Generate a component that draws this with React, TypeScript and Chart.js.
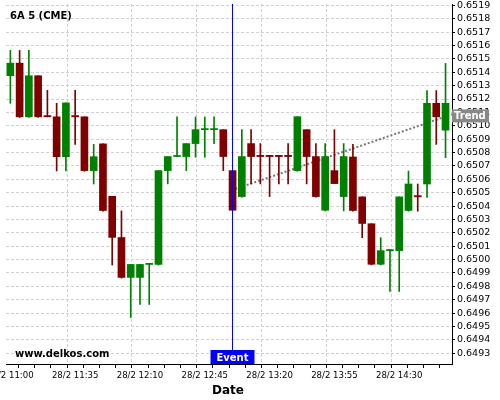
import React, { useEffect, useRef } from 'react';
import { Chart, registerables } from 'chart.js';

Chart.register(...registerables);

// ---- data ----
const chartTitle = '6A 5 (CME)';
const watermark = 'www.delkos.com';
const xAxisTitle = 'Date';

const times = [
  '11:00', '11:05', '11:10', '11:15', '11:20', '11:25', '11:30', '11:35',
  '11:40', '11:45', '11:50', '11:55', '12:00', '12:05', '12:10', '12:15',
  '12:20', '12:25', '12:30', '12:35', '12:40', '12:45', '12:50', '12:55',
  '13:00', '13:05', '13:10', '13:15', '13:20', '13:25', '13:30', '13:35',
  '13:40', '13:45', '13:50', '13:55', '14:00', '14:05', '14:10', '14:15',
  '14:20', '14:25', '14:30', '14:35', '14:40', '14:45', '14:50', '14:55',
];

const opens = [
  0.651374, 0.651468, 0.651067, 0.651374, 0.651076, 0.651067, 0.650769, 0.651076,
  0.651067, 0.650665, 0.650865, 0.650473, 0.650165, 0.649867, 0.649867, 0.649964,
  0.649964, 0.650665, 0.650770, 0.650770, 0.650867, 0.650971, 0.650971, 0.650971,
  0.650665, 0.650471, 0.650867, 0.650779, 0.650779, 0.650779, 0.650779, 0.650665,
  0.650971, 0.650770, 0.650369, 0.650665, 0.650471, 0.650767, 0.650469, 0.650268,
  0.649965, 0.650067, 0.650067, 0.650367, 0.650478, 0.650565, 0.651168, 0.650967,
];

const highs = [
  0.651563, 0.651563, 0.651563, 0.651374, 0.651265, 0.651168, 0.651171, 0.651265,
  0.651067, 0.650861, 0.650865, 0.650473, 0.650364, 0.649964, 0.649964, 0.649972,
  0.650665, 0.650770, 0.651066, 0.650867, 0.651066, 0.651066, 0.651066, 0.650971,
  0.650665, 0.650971, 0.650971, 0.650867, 0.650779, 0.650779, 0.650867, 0.651068,
  0.650971, 0.650867, 0.650867, 0.650971, 0.650867, 0.650861, 0.650469, 0.650268,
  0.650164, 0.650075, 0.650469, 0.650662, 0.650565, 0.651263, 0.651263, 0.651466,
];

const lows = [
  0.651168, 0.651062, 0.651062, 0.651062, 0.651067, 0.650662, 0.650662, 0.650861,
  0.650660, 0.650565, 0.650362, 0.649960, 0.649862, 0.649568, 0.649665, 0.649665,
  0.649959, 0.650566, 0.650770, 0.650665, 0.650765, 0.650765, 0.650867, 0.650665,
  0.650369, 0.650466, 0.650566, 0.650566, 0.650471, 0.650566, 0.650566, 0.650660,
  0.650566, 0.650466, 0.650364, 0.650568, 0.650364, 0.650362, 0.650164, 0.649960,
  0.649960, 0.649762, 0.649762, 0.650362, 0.650362, 0.650464, 0.650861, 0.650762,
];

const closes = [
  0.651468, 0.651067, 0.651374, 0.651067, 0.651067, 0.650769, 0.651171, 0.651067,
  0.650665, 0.650769, 0.650367, 0.650166, 0.649867, 0.649964, 0.649964, 0.649972,
  0.650665, 0.650770, 0.650778, 0.650867, 0.650971, 0.650979, 0.650979, 0.650770,
  0.650369, 0.650770, 0.650770, 0.650770, 0.650770, 0.650770, 0.650770, 0.651068,
  0.650770, 0.650471, 0.650770, 0.650568, 0.650770, 0.650367, 0.650270, 0.649965,
  0.650067, 0.650075, 0.650469, 0.650565, 0.650469, 0.651168, 0.651067, 0.651168,
];

const xTickIndex = [0, 7, 14, 21, 28, 35, 42];
const xTickLabels = ['28/2 11:00', '28/2 11:35', '28/2 12:10', '28/2 12:45', '28/2 13:20', '28/2 13:55', '28/2 14:30'];

const yTickLabels = [
  '0.6493', '0.6494', '0.6495', '0.6496', '0.6497', '0.6498', '0.6499', '0.6500', '0.6501',
  '0.6502', '0.6503', '0.6504', '0.6505', '0.6506', '0.6507', '0.6508', '0.6509', '0.6510',
  '0.6511', '0.6512', '0.6513', '0.6514', '0.6515', '0.6516', '0.6517', '0.6518', '0.6519',
];

const eventIndex = 24;
const eventLabel = 'Event';
const trendLabel = 'Trend';
const trendX = [24.3, 47.7];
const trendY = [0.650528, 0.651085];

// ---- styles ----
const UP = '#008000';
const DOWN = '#800000';
const GRID = '#d0d0d0';

const overlayPlugin = {
  id: 'overlay',
  afterDraw(chart: any) {
    const { ctx, chartArea } = chart;
    const xs = chart.scales.x;
    const ys = chart.scales.y;
    ctx.save();
    // event line
    const ex = Math.round(xs.getPixelForValue(eventIndex)) - 0.5;
    ctx.strokeStyle = '#0000ff';
    ctx.lineWidth = 1;
    ctx.beginPath();
    ctx.moveTo(ex, chartArea.top);
    ctx.lineTo(ex, chartArea.bottom);
    ctx.stroke();
    // event label
    ctx.fillStyle = '#0000ff';
    ctx.fillRect(ex - 22, chartArea.bottom - 14, 44, 14);
    ctx.fillStyle = '#ffffff';
    ctx.font = 'bold 10px "DejaVu Sans"';
    ctx.textAlign = 'center';
    ctx.textBaseline = 'alphabetic';
    ctx.fillText(eventLabel, ex, chartArea.bottom - 3);
    // trend label
    const ty = ys.getPixelForValue(trendY[1]);
    ctx.fillStyle = '#888888';
    ctx.fillRect(chartArea.right, ty - 5, 37, 13);
    ctx.fillStyle = '#ffffff';
    ctx.font = 'bold 10px "DejaVu Sans"';
    ctx.textAlign = 'left';
    ctx.fillText(trendLabel, chartArea.right + 2, ty + 5);
    // title
    ctx.fillStyle = '#000000';
    ctx.font = 'bold 10px "DejaVu Sans"';
    ctx.fillText(chartTitle, 10, 19);
    // watermark
    ctx.fillText(watermark, 15, 357);
    // axis title
    ctx.font = 'bold 12px "DejaVu Sans"';
    ctx.textAlign = 'center';
    ctx.fillText(xAxisTitle, (chartArea.left + chartArea.right) / 2 - 1, 394);
    ctx.restore();
  },
};

export default function App() {
  const ref = useRef<HTMLCanvasElement | null>(null);

  useEffect(() => {
    if (!ref.current) return;
    const colors = opens.map((o, i) => (closes[i] >= o ? UP : DOWN));
    const bodies = opens.map((o, i) => ({ x: i, y: [o, closes[i]] }));
    const wicks = lows.map((l, i) => ({ x: i, y: [l, highs[i]] }));
    const trend = trendX.map((x, i) => ({ x, y: trendY[i] }));

    const chart = new Chart(ref.current, {
      type: 'bar',
      data: {
        labels: times,
        datasets: [
          {
            type: 'bar',
            label: 'body',
            data: bodies as any,
            backgroundColor: colors,
            barThickness: 7,
            grouped: false,
            minBarLength: 1,
            borderWidth: 0,
            order: 1,
          } as any,
          {
            type: 'bar',
            label: 'wick',
            data: wicks as any,
            backgroundColor: colors,
            barThickness: 1,
            grouped: false,
            borderWidth: 0,
            order: 2,
          } as any,
          {
            type: 'line',
            label: 'trend',
            data: trend as any,
            borderColor: '#787878',
            borderWidth: 2,
            borderDash: [2, 2],
            pointRadius: 0,
            fill: false,
            order: 3,
          } as any,
        ],
      },
      options: {
        responsive: false,
        animation: false,
        devicePixelRatio: 1,
        layout: { padding: { left: 6, top: 4, right: 0, bottom: 0 } },
        plugins: { legend: { display: false }, tooltip: { enabled: false } },
        scales: {
          x: {
            type: 'linear',
            position: 'bottom',
            min: -0.47,
            max: 47.7,
            offset: false,
            afterBuildTicks: (s: any) => {
              const t = [];
              for (let k = 0; k * 1.75 <= 47.5; k++) t.push({ value: k * 1.75 });
              s.ticks = t;
            },
            afterFit: (s: any) => {
              s.height = 36;
              s.paddingLeft = 0;
              s.paddingRight = 0;
            },
            ticks: {
              autoSkip: false,
              maxRotation: 0,
              minRotation: 0,
              padding: 2,
              color: '#000',
              font: { family: "'DejaVu Sans Condensed', 'DejaVu Sans'", size: 9.5 },
              callback: (v: any) => {
                const idx = xTickIndex.indexOf(v);
                return idx >= 0 ? xTickLabels[idx] : '';
              },
            },
            grid: {
              color: (c: any) => (c.tick && xTickIndex.includes(c.tick.value) ? GRID : 'rgba(0,0,0,0)'),
              lineWidth: 1,
              tickColor: '#000',
              tickLength: 4,
              tickWidth: 1,
            },
            border: { display: true, color: '#000', width: 1, dash: [3, 2] },
          },
          y: {
            type: 'linear',
            position: 'right',
            min: 0.64922,
            max: 0.65191,
            afterBuildTicks: (s: any) => {
              s.ticks = yTickLabels.map((l) => ({ value: parseFloat(l) }));
            },
            afterFit: (s: any) => {
              s.width = 48;
              s.paddingTop = 0;
              s.paddingBottom = 0;
            },
            ticks: {
              autoSkip: false,
              padding: 2,
              color: '#000',
              font: { family: "'DejaVu Sans'", size: 9.5 },
              callback: (v: any) => Number(v).toFixed(4),
            },
            grid: {
              color: GRID,
              lineWidth: 1,
              tickColor: '#000',
              tickLength: 3,
              tickWidth: 1,
            },
            border: { display: true, color: '#000', width: 1, dash: [3, 2] },
          },
        },
      },
      plugins: [overlayPlugin],
    });
    return () => chart.destroy();
  }, []);

  return (
    <div style={{ position: 'fixed', left: 0, top: 0, width: 500, height: 400, background: '#fff' }}>
      <canvas ref={ref} width={500} height={400} />
    </div>
  );
}
